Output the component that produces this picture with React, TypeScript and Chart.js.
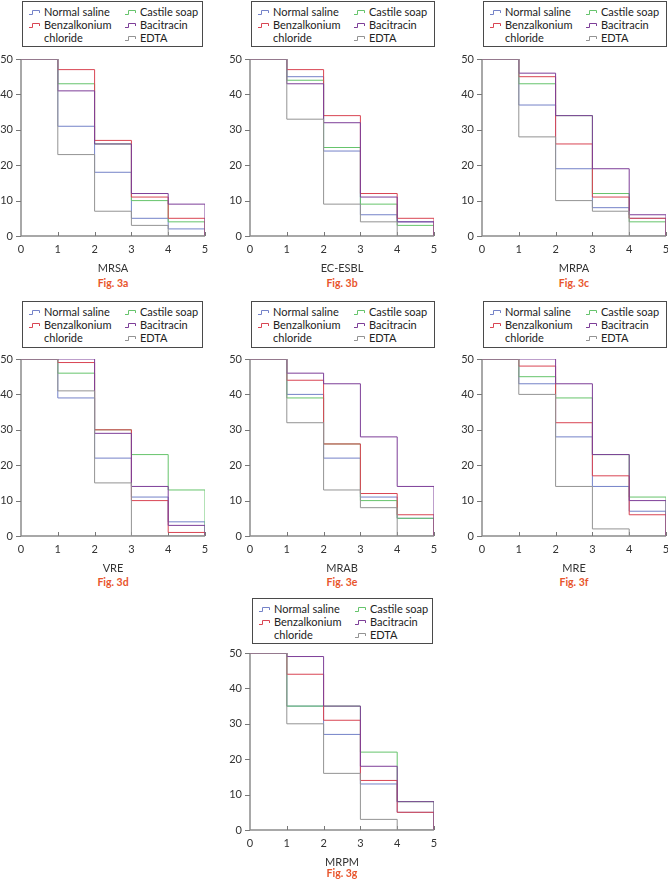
import React, { useEffect, useRef } from "react";
import { Chart, registerables } from "chart.js";

Chart.register(...registerables);

// ---------- data ----------
const SERIES_NAMES = ["Normal saline", "Benzalkonium chloride", "Castile soap", "Bacitracin", "EDTA"];
const SERIES_COLORS = ["#7482c8", "#d94553", "#66c46c", "#7d3e98", "#939393"];
const SERIES_ORDER = [4, 2, 3, 1, 0];
const X_VALUES = [0, 1, 2, 3, 4, 5];
const Y_TICKS = [0, 10, 20, 30, 40, 50];
const X_TICKS = [0, 1, 2, 3, 4, 5];

// each row: Normal saline, Benzalkonium chloride, Castile soap, Bacitracin, EDTA
const MRSA_VALUES = [
  [50, 31, 18, 5, 2, 0],
  [50, 47, 27, 11, 5, 0],
  [50, 43, 26, 10, 4, 0],
  [50, 41, 26, 12, 9, 0],
  [50, 23, 7, 3, 0, 0],
];
const ECESBL_VALUES = [
  [50, 45, 24, 6, 4, 0],
  [50, 47, 34, 12, 5, 0],
  [50, 44, 25, 9, 3, 0],
  [50, 43, 32, 11, 4, 0],
  [50, 33, 9, 4, 0, 0],
];
const MRPA_VALUES = [
  [50, 37, 19, 8, 5, 0],
  [50, 45, 26, 11, 5, 0],
  [50, 43, 34, 12, 4, 0],
  [50, 46, 34, 19, 6, 0],
  [50, 28, 10, 7, 0, 0],
];
const VRE_VALUES = [
  [50, 39, 22, 11, 4, 0],
  [50, 49, 30, 10, 1, 0],
  [50, 46, 30, 23, 13, 0],
  [50, 50, 29, 14, 3, 0],
  [50, 41, 15, 0, 0, 0],
];
const MRAB_VALUES = [
  [50, 40, 22, 11, 5, 0],
  [50, 44, 26, 12, 6, 0],
  [50, 39, 26, 10, 5, 0],
  [50, 46, 43, 28, 14, 0],
  [50, 32, 13, 8, 0, 0],
];
const MRE_VALUES = [
  [50, 43, 28, 14, 7, 0],
  [50, 48, 32, 17, 6, 0],
  [50, 45, 39, 23, 11, 0],
  [50, 50, 43, 23, 10, 0],
  [50, 40, 14, 2, 0, 0],
];
const MRPM_VALUES = [
  [50, 35, 27, 13, 5, 0],
  [50, 44, 31, 14, 5, 0],
  [50, 35, 35, 22, 8, 0],
  [50, 49, 35, 18, 8, 0],
  [50, 30, 16, 3, 0, 0],
];

const PANEL_TITLES = ["MRSA", "EC-ESBL", "MRPA", "VRE", "MRAB", "MRE", "MRPM"];
const PANEL_FIGS = ["Fig. 3a", "Fig. 3b", "Fig. 3c", "Fig. 3d", "Fig. 3e", "Fig. 3f", "Fig. 3g"];
const PANEL_VALUES = [MRSA_VALUES, ECESBL_VALUES, MRPA_VALUES, VRE_VALUES, MRAB_VALUES, MRE_VALUES, MRPM_VALUES];

// ---------- layout ----------
const Y_AXIS_W = 22;
const X_AXIS_H = 39;
const PAD_T = 10;
const PAD_R = 10;
const PLOT_W = 184;
const PLOT_H = 177;
const PLOT_X = [21, 250, 482, 21, 250, 482, 250];
const PLOT_Y = [59, 59, 59, 359, 359, 359, 653];
const LEGEND_BOX = [
  { left: 22, top: 1, width: 181, height: 46 },
  { left: 251, top: 1, width: 184, height: 46 },
  { left: 483, top: 1, width: 184, height: 46 },
  { left: 22, top: 301, width: 181, height: 47 },
  { left: 251, top: 301, width: 184, height: 47 },
  { left: 483, top: 301, width: 184, height: 47 },
  { left: 252, top: 598, width: 181, height: 46 },
];
const FIG_Y = [283, 283, 283, 582, 582, 582, 873];

const FONT = "Lato, 'Open Sans', sans-serif";

const axesPlugin = {
  id: "stepAxes",
  beforeDatasetsDraw(chart: any) {
    const { ctx, chartArea, scales } = chart;
    const { left, right, top, bottom } = chartArea;
    ctx.save();
    ctx.strokeStyle = "#8c8c8c";
    ctx.lineWidth = 1.5;
    ctx.beginPath();
    ctx.moveTo(left, top);
    ctx.lineTo(left, bottom);
    ctx.lineTo(right, bottom);
    ctx.stroke();
    ctx.lineWidth = 1;
    ctx.strokeStyle = "#777";
    ctx.beginPath();
    Y_TICKS.forEach((v) => {
      const py = Math.round(scales.y.getPixelForValue(v)) + 0.5;
      ctx.moveTo(left - 5, py);
      ctx.lineTo(left, py);
    });
    X_TICKS.forEach((v) => {
      if (v === 0) return;
      const px = Math.round(scales.x.getPixelForValue(v)) + 0.5;
      ctx.moveTo(px, bottom);
      ctx.lineTo(px, bottom - 4);
    });
    ctx.stroke();
    ctx.restore();
  },
};

function StepIcon({ color }: { color: string }) {
  return (
    <svg width="12" height="7" style={{ position: "absolute", left: 0, top: 3 }}>
      <polyline points="0,5.5 3.5,5.5 3.5,1.5 10.5,1.5 10.5,4" fill="none" stroke={color} strokeWidth="1" />
    </svg>
  );
}

function Legend({ box }: { box: { left: number; top: number; width: number; height: number } }) {
  const item = (i: number, x: number, y: number, lines: string[]) => (
    <div key={i} style={{ position: "absolute", left: x, top: y, width: 90 }}>
      <StepIcon color={SERIES_COLORS[i]} />
      <div style={{ position: "absolute", left: 15, top: -1, lineHeight: "13px", whiteSpace: "nowrap" }}>
        {lines.map((l, k) => (
          <div key={k}>{l}</div>
        ))}
      </div>
    </div>
  );
  return (
    <div
      style={{
        position: "absolute",
        left: box.left,
        top: box.top,
        width: box.width,
        height: box.height,
        border: "1px solid #4a4a4a",
        boxSizing: "border-box",
        fontFamily: FONT,
        fontSize: 11,
        color: "#222",
        background: "#fff",
      }}
    >
      {item(0, 6, 4, [SERIES_NAMES[0]])}
      {item(1, 6, 17, ["Benzalkonium", "chloride"])}
      {item(2, 102, 4, [SERIES_NAMES[2]])}
      {item(3, 102, 17, [SERIES_NAMES[3]])}
      {item(4, 102, 30, [SERIES_NAMES[4]])}
    </div>
  );
}

function Panel({ index }: { index: number }) {
  const ref = useRef<HTMLCanvasElement | null>(null);
  const values = PANEL_VALUES[index];
  const cw = Y_AXIS_W + PLOT_W + PAD_R;
  const ch = PAD_T + PLOT_H + X_AXIS_H;

  useEffect(() => {
    if (!ref.current) return;
    const chart = new Chart(ref.current, {
      type: "line",
      data: {
        datasets: values.map((series, i) => ({
          label: SERIES_NAMES[i],
          data: X_VALUES.map((x, j) => ({ x, y: series[j] })),
          borderColor: SERIES_COLORS[i],
          backgroundColor: SERIES_COLORS[i],
          borderWidth: 1,
          pointRadius: 0,
          stepped: true,
          fill: false,
          order: SERIES_ORDER[i],
        })),
      },
      options: {
        responsive: false,
        animation: false,
        devicePixelRatio: 1,
        layout: { padding: { top: PAD_T, right: PAD_R, left: 0, bottom: 0 } },
        plugins: { legend: { display: false }, tooltip: { enabled: false } },
        scales: {
          x: {
            type: "linear",
            min: 0,
            max: 5,
            afterBuildTicks: (s: any) => {
              s.ticks = X_TICKS.map((v) => ({ value: v }));
            },
            ticks: { padding: 7, color: "#333", font: { family: FONT, size: 11 } },
            grid: { display: false, drawTicks: false },
            border: { display: false },
            title: {
              display: true,
              text: PANEL_TITLES[index],
              color: "#333",
              font: { family: FONT, size: 11 },
              padding: 0,
            },
            afterFit: (s: any) => {
              s.height = X_AXIS_H;
              s.paddingLeft = 0;
              s.paddingRight = 0;
            },
          },
          y: {
            type: "linear",
            min: 0,
            max: 50,
            afterBuildTicks: (s: any) => {
              s.ticks = Y_TICKS.map((v) => ({ value: v }));
            },
            ticks: { padding: 8, color: "#333", font: { family: FONT, size: 11 } },
            grid: { display: false, drawTicks: false },
            border: { display: false },
            afterFit: (s: any) => {
              s.width = Y_AXIS_W;
              s.paddingTop = 0;
              s.paddingBottom = 0;
            },
          },
        },
      } as any,
      plugins: [axesPlugin],
    });
    return () => chart.destroy();
  }, [index]);

  return (
    <>
      <canvas
        ref={ref}
        width={cw}
        height={ch}
        style={{
          position: "absolute",
          left: PLOT_X[index] - Y_AXIS_W,
          top: PLOT_Y[index] - PAD_T,
          width: cw,
          height: ch,
        }}
      />
      <Legend box={LEGEND_BOX[index]} />
      <div
        style={{
          position: "absolute",
          left: PLOT_X[index] + PLOT_W / 2 - 40,
          width: 80,
          top: FIG_Y[index] - 7,
          height: 14,
          lineHeight: "14px",
          textAlign: "center",
          fontFamily: FONT,
          fontWeight: 700,
          fontSize: 10.5,
          color: "#e8552c",
        }}
      >
        {PANEL_FIGS[index]}
      </div>
    </>
  );
}

export default function App() {
  return (
    <div
      style={{
        position: "absolute",
        left: 0,
        top: 0,
        width: 668,
        height: 881,
        overflow: "hidden",
        background: "#fff",
      }}
    >
      {PANEL_TITLES.map((_, i) => (
        <Panel key={i} index={i} />
      ))}
    </div>
  );
}
